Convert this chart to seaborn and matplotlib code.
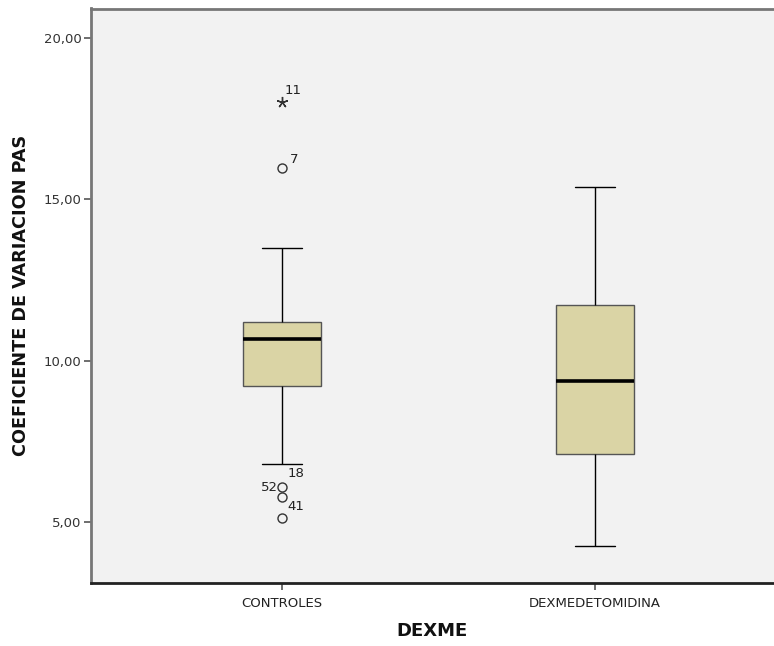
import numpy as np
import pandas as pd
import matplotlib
matplotlib.use("Agg")
import matplotlib.pyplot as plt
import seaborn as sns

# ---- data ----
groups = ["CONTROLES", "DEXMEDETOMIDINA"]
controles = [5.12, 5.77, 6.08, 6.80, 8.50, 9.23, 9.60, 9.90, 10.20, 10.50, 10.68,
             10.80, 10.90, 11.00, 11.10, 11.20, 12.00, 12.70, 13.48, 15.96, 18.02]
dexme = [4.26, 5.50, 6.20, 6.60, 6.90, 7.10, 7.80, 8.40, 8.90, 9.20, 9.38,
         9.90, 10.50, 11.00, 11.40, 11.73, 12.30, 13.00, 13.80, 14.60, 15.37]
# case labels for outlying points (value -> case number)
case_labels = {18.02: "11", 15.96: "7", 6.08: "18", 5.77: "52", 5.12: "41"}
label_offsets = {"11": (3, 8), "7": (8, 5), "18": (6, 10), "52": (-21, 6), "41": (5, 8)}
yticks = [5, 10, 15, 20]
ytick_labels = ["5,00", "10,00", "15,00", "20,00"]

df = pd.DataFrame({
    "DEXME": [groups[0]] * len(controles) + [groups[1]] * len(dexme),
    "CV": controles + dexme,
})

sns.set_theme(style="white")
plt.rcParams["font.family"] = ["DejaVu Sans"]

fig = plt.figure(figsize=(7.74, 6.46), dpi=100)
ax = fig.add_axes([91 / 774, 1 - 583 / 646, 1 - 91 / 774, (583 - 8.5) / 646])
ax.set_facecolor("#F2F2F2")

sns.boxplot(data=df, x="DEXME", y="CV", order=groups, ax=ax, width=0.25,
            color="#DAD4A5", showfliers=False, whis=1.5,
            boxprops=dict(edgecolor="#555555", linewidth=1.0, facecolor="#DAD4A5"),
            medianprops=dict(color="black", linewidth=2.6),
            whiskerprops=dict(color="black", linewidth=1.0),
            capprops=dict(color="black", linewidth=1.0))

# outliers (SPSS style: circle beyond 1.5 IQR, star beyond 3 IQR)
for i, g in enumerate(groups):
    vals = np.array(df.loc[df["DEXME"] == g, "CV"])
    q1, q3 = np.percentile(vals, [25, 75])
    iqr = q3 - q1
    for v in vals:
        if v > q3 + 3 * iqr or v < q1 - 3 * iqr:
            ax.plot(i, v, marker=(5, 2, 0), ms=8, color="#333333", mew=1.0, ls="none")
        elif v > q3 + 1.5 * iqr or v < q1 - 1.5 * iqr:
            ax.plot(i, v, marker="o", ms=6.5, mfc="none", mec="#333333", mew=1.0, ls="none")
        else:
            continue
        lab = case_labels.get(round(v, 2))
        if lab:
            ax.annotate(lab, (i, v), xytext=label_offsets[lab], textcoords="offset pixels",
                        fontsize=9.5, color="#222222")

ax.set_xlim(-0.610, 1.572)
ax.set_ylim(3.12, 20.9)
ax.set_yticks(yticks)
ax.set_yticklabels(ytick_labels, fontsize=9.5, color="#333333")
ax.set_xticks([0, 1])
ax.set_xticklabels(groups, fontsize=9.5, color="#222222")
ax.tick_params(axis="both", which="both", direction="out", length=5, width=1.2,
               color="#555555", left=True, bottom=True, pad=2)
ax.tick_params(axis="x", pad=5)
ax.set_xlabel("DEXME", fontsize=13, fontweight="bold", color="#111111", labelpad=9)
ax.set_ylabel("COEFICIENTE DE VARIACION PAS", fontsize=12.7, fontweight="bold",
              color="#111111", labelpad=10)

for s in ["left", "top"]:
    ax.spines[s].set_color("#777777")
    ax.spines[s].set_linewidth(2.0)
ax.spines["bottom"].set_color("#222222")
ax.spines["bottom"].set_linewidth(2.0)
ax.spines["right"].set_visible(False)

fig.savefig("out.png", dpi=100)
